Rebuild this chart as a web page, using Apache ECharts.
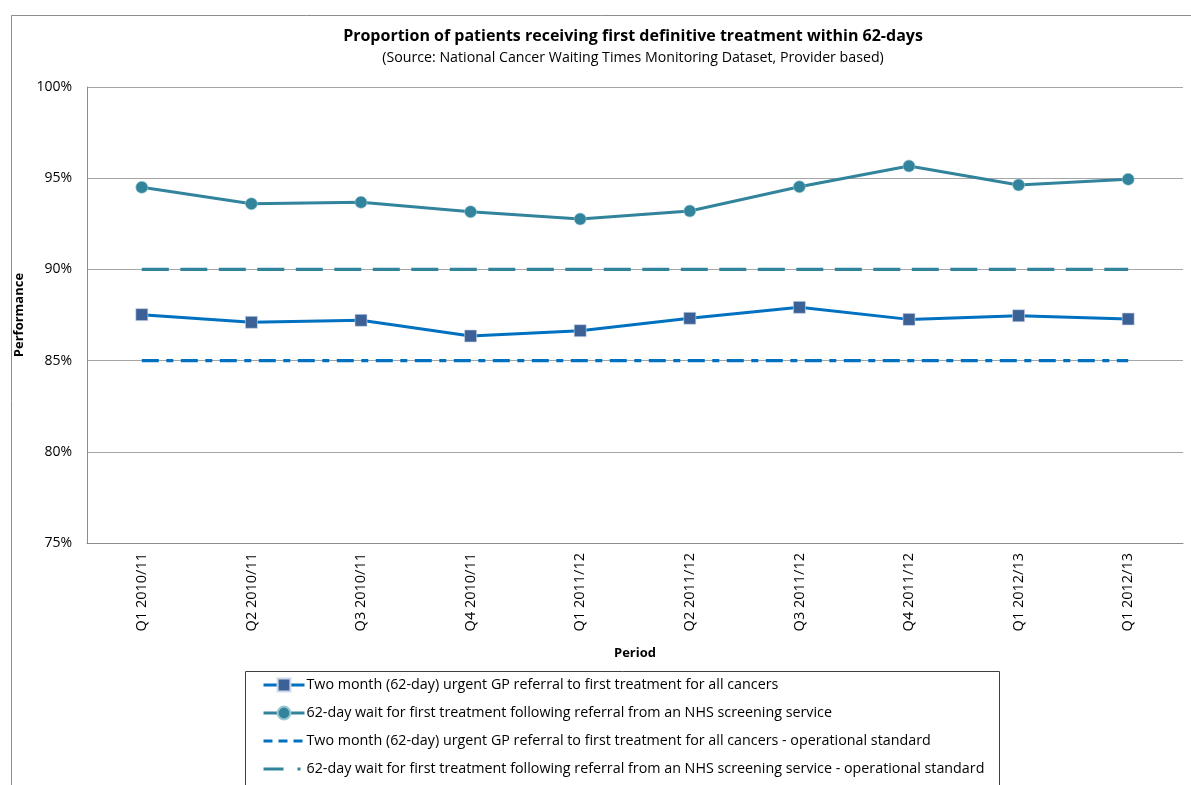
<!DOCTYPE html>
<html>
<head>
<meta charset="utf-8">
<script src="https://cdn.jsdelivr.net/npm/echarts@6/dist/echarts.min.js"></script>
<style>
html,body{margin:0;padding:0;background:#fff;}
#chart{width:1191px;height:785px;}
</style>
</head>
<body>
<div id="chart"></div>
<script>
const categories = ['Q1 2010/11','Q2 2010/11','Q3 2010/11','Q4 2010/11','Q1 2011/12','Q2 2011/12','Q3 2011/12','Q4 2011/12','Q1 2012/13','Q1 2012/13'];
const gpReferral = [87.52, 87.10, 87.21, 86.35, 86.64, 87.32, 87.92, 87.26, 87.46, 87.28];
const screening = [94.50, 93.60, 93.68, 93.16, 92.76, 93.20, 94.53, 95.67, 94.63, 94.94];
const gpStandard = [85, 85, 85, 85, 85, 85, 85, 85, 85, 85];
const screeningStandard = [90, 90, 90, 90, 90, 90, 90, 90, 90, 90];
const seriesNames = [
  'Two month (62-day) urgent GP referral to first treatment for all cancers',
  '62-day wait for first treatment following referral from an NHS screening service',
  'Two month (62-day) urgent GP referral to first treatment for all cancers - operational standard',
  '62-day wait for first treatment following referral from an NHS screening service - operational standard'
];
const yTicks = {min: 75, max: 100, interval: 5};

const FONT = '"Open Sans", "Noto Sans", sans-serif';
const BLUE = '#0070C0', TEAL = '#31849B';
const gpDash = [17, 7.5, 7, 7.5];
const scDash = [27, 11.5];
const chart = echarts.init(document.getElementById('chart'), null, {renderer: 'canvas'});
const catIdx = categories.map((c, i) => String(i));
chart.setOption({
  animation: false,
  backgroundColor: '#fff',
  textStyle: {fontFamily: FONT},
  title: {
    text: 'Proportion of patients receiving first definitive treatment within 62-days',
    subtext: '(Source: National Cancer Waiting Times Monitoring Dataset, Provider based)',
    left: 628, textAlign: 'center', top: 23, itemGap: 7,
    textStyle: {fontFamily: FONT, fontSize: 16, fontWeight: 'bold', color: '#000'},
    subtextStyle: {fontFamily: FONT, fontSize: 14.2, color: '#000'}
  },
  graphic: [
    {type: 'rect', left: 9, top: 13, shape: {x: 0, y: 0, width: 1300, height: 900}, style: {fill: 'none', stroke: '#8c8c8c', lineWidth: 1}, z: -1, silent: true},
    {type: 'rect', left: 243, top: 669, shape: {x: 0, y: 0, width: 754, height: 114}, style: {fill: 'none', stroke: '#404040', lineWidth: 1}, silent: true}
  ],
  legend: {
    orient: 'vertical', left: 262, top: 677, padding: 0,
    itemWidth: 41, itemHeight: 16, itemGap: 12,
    textStyle: {fontFamily: FONT, fontSize: 14.3, lineHeight: 16, color: '#000', padding: [0,0,0,-3]},
    data: [
      {name: seriesNames[0], lineStyle: {width: 3, type: 'solid', color: BLUE}},
      {name: seriesNames[1], lineStyle: {width: 3, type: 'solid', color: TEAL}},
      {name: seriesNames[2], lineStyle: {width: 3, type: [9, 6], color: BLUE}, itemStyle: {opacity: 0}},
      {name: seriesNames[3], lineStyle: {width: 3, type: [20, 14, 3, 20], color: TEAL}, itemStyle: {opacity: 0}}
    ]
  },
  grid: {left: 87, right: 8, top: 87, bottom: 242, containLabel: false},
  xAxis: {
    type: 'category', data: catIdx, boundaryGap: true,
    name: 'Period', nameLocation: 'middle', nameGap: 104,
    nameTextStyle: {fontFamily: FONT, fontSize: 13, fontWeight: 'bold', color: '#000'},
    axisLine: {lineStyle: {color: '#8c8c8c', width: 1}},
    axisTick: {show: false},
    axisLabel: {rotate: 90, margin: 10, fontSize: 14.5, color: '#000', fontFamily: FONT,
      formatter: v => categories[+v]}
  },
  yAxis: {
    type: 'value', min: yTicks.min, max: yTicks.max, interval: yTicks.interval,
    name: 'Performance', nameLocation: 'middle', nameGap: 58, nameRotate: 90,
    nameTextStyle: {fontFamily: FONT, fontSize: 13, fontWeight: 'bold', color: '#000'},
    axisLine: {show: true, lineStyle: {color: '#8c8c8c', width: 1}},
    axisTick: {show: false},
    splitLine: {lineStyle: {color: '#a6a6a6', width: 1}},
    axisLabel: {formatter: '{value}%', margin: 15, fontSize: 14, color: '#000', fontFamily: FONT}
  },
  series: [
    {name: seriesNames[0], type: 'line', data: gpReferral, z: 5,
      symbol: 'rect', symbolSize: 12,
      lineStyle: {color: BLUE, width: 3},
      itemStyle: {color: '#3B6196', borderColor: '#d0d8e8', borderWidth: 0.6}},
    {name: seriesNames[1], type: 'line', data: screening, z: 5,
      symbol: 'circle', symbolSize: 12,
      lineStyle: {color: TEAL, width: 3},
      itemStyle: {color: TEAL, borderColor: '#9cc7d3', borderWidth: 0.6}},
    {name: seriesNames[2], type: 'line', data: gpStandard, z: 4,
      symbol: 'none',
      lineStyle: {color: BLUE, width: 3.3, type: gpDash, cap: 'butt'},
      itemStyle: {color: BLUE}},
    {name: seriesNames[3], type: 'line', data: screeningStandard, z: 4,
      symbol: 'none',
      lineStyle: {color: TEAL, width: 3.3, type: scDash, cap: 'butt'},
      itemStyle: {color: TEAL}}
  ]
});
</script>
</body>
</html>
